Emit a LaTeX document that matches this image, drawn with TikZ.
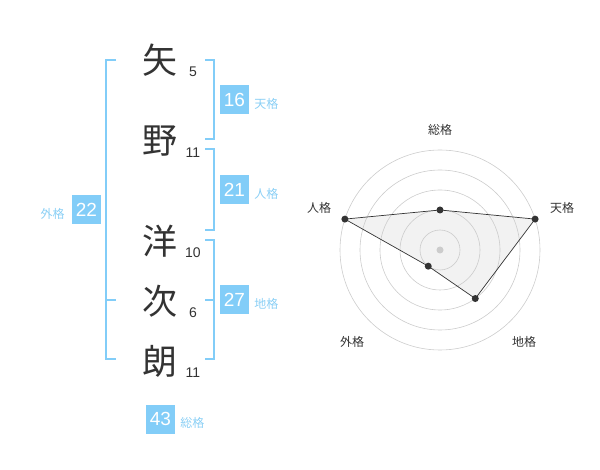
\documentclass[tikz,border=0pt]{standalone}
\usepackage{fontspec}
\setmainfont{Liberation Sans}
\newfontfamily\jp{Noto Sans CJK JP}
\usetikzlibrary{positioning}
\definecolor{sky}{HTML}{82CDF8}
\definecolor{skytext}{HTML}{8ACFF5}
\definecolor{ink}{HTML}{333333}

\begin{document}
\begin{tikzpicture}[x=1pt,y=-1pt,
  kanji/.style={font=\jp\fontsize{35}{35}\selectfont,text=ink,inner sep=0pt},
  strokes/.style={font=\fontsize{14}{14}\selectfont,text=ink,inner sep=0pt},
  score/.style={fill=sky,text=white,minimum size=29pt,inner sep=0pt,font=\fontsize{19}{19}\selectfont},
  kaku/.style={font=\jp\fontsize{12}{12}\selectfont,text=skytext,inner sep=0pt},
  bracket/.style={draw=sky,line width=2pt},
  ring/.style={draw=black!20,line width=0.6pt},
  axis/.style={font=\jp\fontsize{12}{12}\selectfont,text=ink,inner sep=0pt},
  dot/.style={circle,fill=ink,inner sep=0pt,minimum size=7pt}]
  \useasboundingbox (0,0) rectangle (600,470);

  % name and stroke counts
  \foreach \ch/\y/\n [count=\i] in {矢/60/5, 野/141/11, 洋/241/10, 次/301/6, 朗/361/11}{
    \node[kanji] (c\i) at (160,\y) {\ch};
    \node[strokes] (n\i) at (193,\y+12) {\n};
  }

  % brackets
  \draw[bracket] (205,60) -| (214,139) -- (205,139);
  \draw[bracket] (205,149) -| (214,230) -- (205,230);
  \draw[bracket] (205,240) -| (214,359) -- (205,359);
  \draw[bracket] (205,300) -- (214,300);
  \draw[bracket] (116,60) -| (106,359) -- (116,359);
  \draw[bracket] (106,300) -- (116,300);

  % scores
  \node[score] (ten) at (234.5,100) {16};
  \node[kaku,right=5pt of ten,yshift=-4pt] (tenl) {天格};
  \node[score] (jin) at (234.5,190) {21};
  \node[kaku,right=5pt of jin,yshift=-4pt] (jinl) {人格};
  \node[score] (chi) at (234.5,300) {27};
  \node[kaku,right=5pt of chi,yshift=-4pt] (chil) {地格};
  \node[score] (gai) at (86.5,210) {22};
  \node[kaku,left=7pt of gai,yshift=-4pt] (gail) {外格};
  \node[score] (sou) at (160.5,419) {43};
  \node[kaku,right=5pt of sou,yshift=-4pt] (soul) {総格};

  % radar chart
  \coordinate (ctr) at (440,250);
  \foreach \a/\v/\lx/\ly/\lab [count=\i] in {90/40/440/130/総格, 18/100/562/208/天格,
      -54/60/524/342/地格, -126/20/352/342/外格, 162/100/319/208/人格}{
    \coordinate (v\i) at ([shift={(\a:\v pt)}]ctr);
    \node[axis] (l\i) at (\lx,\ly) {\lab};
  }
  \fill[black!5] (v1) -- (v2) -- (v3) -- (v4) -- (v5) -- cycle;
  \foreach \r in {20,40,...,100}
    \draw[ring] (ctr) circle[radius=\r pt];
  \draw[ink,line width=0.7pt] (v1) -- (v2) -- (v3) -- (v4) -- (v5) -- cycle;
  \foreach \i in {1,...,5}
    \node[dot] (d\i) at (v\i) {};
  \node[circle,fill=black!20,inner sep=0pt,minimum size=7pt] (mid) at (ctr) {};
\end{tikzpicture}
\end{document}
